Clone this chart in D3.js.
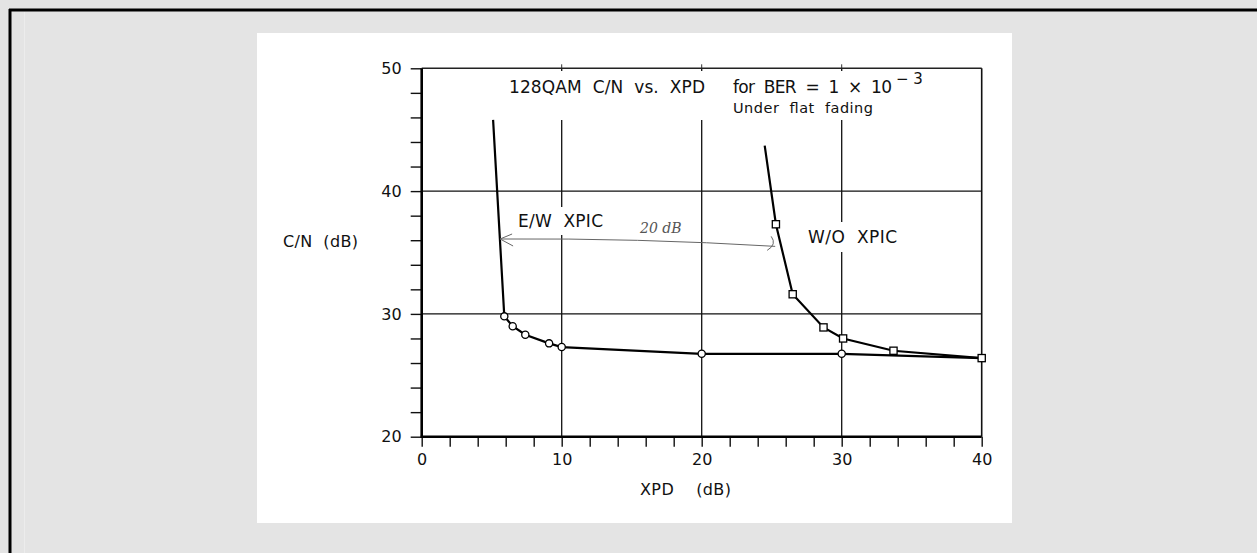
<!DOCTYPE html>
<html>
<head>
<meta charset="utf-8">
<script src="https://cdn.jsdelivr.net/npm/d3@7"></script>
<style>
  body { margin: 0; background: #e4e4e4; }
  svg { display: block; font-family: "DejaVu Sans", "Noto Sans", sans-serif; }
</style>
</head>
<body>
<div id="chart"></div>
<script>
// values (XPD in dB, C/N in dB)
var ewXpd = [5.1, 5.9, 6.5, 7.4, 9.1, 10, 20, 30, 40];
var ewCn  = [45.8, 29.8, 29.0, 28.3, 27.6, 27.3, 26.75, 26.75, 26.4];
var ewMarked = [false, true, true, true, true, true, true, true, false];

var woXpd = [24.5, 25.3, 26.5, 28.7, 30.1, 33.7, 40];
var woCn  = [43.7, 37.3, 31.6, 28.9, 28.0, 27.0, 26.4];
var woMarked = [false, true, true, true, true, true, true];

var xTicks = [0, 10, 20, 30, 40];
var yTicks = [20, 30, 40, 50];
var xGrid = [10, 20, 30];
var yGrid = [30, 40];

var W = 1257, H = 553;
var svg = d3.select("#chart").append("svg")
    .attr("width", W)
    .attr("height", H);

// page frame
svg.append("rect").attr("width", W).attr("height", H).attr("fill", "#e4e4e4");
svg.append("line").attr("x1", 9).attr("x2", W).attr("y1", 10).attr("y2", 10)
    .attr("stroke", "#000").attr("stroke-width", 3);
svg.append("line").attr("x1", 10).attr("x2", 10).attr("y1", 9).attr("y2", H)
    .attr("stroke", "#000").attr("stroke-width", 3);
svg.append("line").attr("x1", 24.5).attr("x2", 24.5).attr("y1", 12).attr("y2", H)
    .attr("stroke", "#ececec").attr("stroke-width", 1);
svg.append("rect").attr("x", 257).attr("y", 33).attr("width", 755).attr("height", 490)
    .attr("fill", "#fff");

var x = d3.scaleLinear().domain([0, 40]).range([421.7, 981.7]);
var y = d3.scaleLinear().domain([20, 50]).range([436.7, 68.3]);

var g = svg.append("g");

// grid
g.selectAll(".vgrid").data(xGrid).enter().append("line")
    .attr("x1", d => x(d)).attr("x2", d => x(d))
    .attr("y1", y(50)).attr("y2", y(20))
    .attr("stroke", "#111").attr("stroke-width", 1.3);
g.selectAll(".hgrid").data(yGrid).enter().append("line")
    .attr("x1", x(0)).attr("x2", x(40))
    .attr("y1", d => y(d)).attr("y2", d => y(d))
    .attr("stroke", "#111").attr("stroke-width", 1.3);

// white boxes where the printed labels break the grid
var boxes = [[505, 71, 420, 49], [514, 207, 94, 28], [804, 222, 100, 30]];
g.selectAll(".knock").data(boxes).enter().append("rect")
    .attr("x", d => d[0]).attr("y", d => d[1])
    .attr("width", d => d[2]).attr("height", d => d[3])
    .attr("fill", "#fff");

// axes
var xAxis = d3.axisBottom(x).tickValues(d3.range(0, 41, 2)).tickSize(10)
    .tickFormat(d => xTicks.indexOf(d) >= 0 ? d : "");
var gx = g.append("g").attr("transform", "translate(0," + y(20) + ")").call(xAxis);
gx.select(".domain").remove();
gx.selectAll(".tick line").attr("stroke", "#111").attr("stroke-width", 1.4);
gx.selectAll(".tick text").attr("font-family", "DejaVu Sans").attr("font-size", 16)
    .attr("fill", "#111").attr("dy", "0.95em");

var yAxis = d3.axisLeft(y).tickValues(d3.range(20, 51, 2)).tickSize(11)
    .tickFormat(d => yTicks.indexOf(d) >= 0 ? d : "");
var gy = g.append("g").attr("transform", "translate(" + x(0) + ",0)").call(yAxis);
gy.select(".domain").remove();
gy.selectAll(".tick line").attr("stroke", "#111").attr("stroke-width", 1.4);
gy.selectAll(".tick text").attr("font-family", "DejaVu Sans").attr("font-size", 16)
    .attr("fill", "#111").attr("x", -20);

// small ticks on the top edge
g.selectAll(".ttick").data(xGrid).enter().append("line")
    .attr("x1", d => x(d)).attr("x2", d => x(d))
    .attr("y1", y(50) - 4).attr("y2", y(50))
    .attr("stroke", "#333").attr("stroke-width", 1);

// frame
g.append("line").attr("x1", x(0)).attr("x2", x(40)).attr("y1", y(50)).attr("y2", y(50))
    .attr("stroke", "#222").attr("stroke-width", 1.6);
g.append("line").attr("x1", x(40)).attr("x2", x(40)).attr("y1", y(50)).attr("y2", y(20))
    .attr("stroke", "#111").attr("stroke-width", 1.6);
g.append("line").attr("x1", x(0)).attr("x2", x(0)).attr("y1", y(50)).attr("y2", y(20) + 1)
    .attr("stroke", "#000").attr("stroke-width", 2.6);
g.append("line").attr("x1", x(0) - 1).attr("x2", x(40)).attr("y1", y(20)).attr("y2", y(20))
    .attr("stroke", "#000").attr("stroke-width", 2.6);

// curves
var line = d3.line().x(d => x(d[0])).y(d => y(d[1]));
var ew = ewXpd.map((v, i) => [v, ewCn[i], ewMarked[i]]);
var wo = woXpd.map((v, i) => [v, woCn[i], woMarked[i]]);

g.append("path").datum(ew).attr("d", line)
    .attr("fill", "none").attr("stroke", "#000").attr("stroke-width", 2.2);
g.append("path").datum(wo).attr("d", line)
    .attr("fill", "none").attr("stroke", "#000").attr("stroke-width", 2.2);

g.selectAll(".circ").data(ew.filter(d => d[2])).enter().append("circle")
    .attr("cx", d => x(d[0])).attr("cy", d => y(d[1])).attr("r", 3.6)
    .attr("fill", "#fff").attr("stroke", "#000").attr("stroke-width", 1.3);
g.selectAll(".sq").data(wo.filter(d => d[2])).enter().append("rect")
    .attr("x", d => x(d[0]) - 3.6).attr("y", d => y(d[1]) - 3.6)
    .attr("width", 7.2).attr("height", 7.2)
    .attr("fill", "#fff").attr("stroke", "#000").attr("stroke-width", 1.3);

// printed labels
function label(tx, ty, str, size, len) {
  return g.append("text").attr("x", tx).attr("y", ty)
      .attr("font-size", size).attr("fill", "#111")
      .attr("textLength", len).attr("lengthAdjust", "spacing")
      .attr("xml:space", "preserve")
      .text(str);
}
label(509, 93, "128QAM  C/N  vs.  XPD", 17, 196);
label(733, 93, "for  BER  =  1  \u00d7  10", 17, 159);
g.append("text").attr("x", 896).attr("y", 84).attr("font-size", 15).attr("fill", "#111")
    .text("\u2212 3");
label(733, 113, "Under  flat  fading", 14.5, 140);
label(518, 227, "E/W  XPIC", 17, 85);
label(808, 243, "W/O  XPIC", 17, 89);
label(283, 247, "C/N  (dB)", 16, 75);
label(640, 495, "XPD    (dB)", 16, 91);

// handwritten "20 dB" arrow between the curves
var arrowFrom = [5.6, 36.1], arrowTo = [25.25, 35.5];
var ax1 = x(arrowFrom[0]), ay1 = y(arrowFrom[1]);
var ax2 = x(arrowTo[0]), ay2 = y(arrowTo[1]);
g.append("path")
    .attr("d", "M" + ax1 + "," + ay1 + "Q" + ((ax1 + ax2) / 2) + "," + (ay1 - 1) + " " + ax2 + "," + ay2)
    .attr("fill", "none").attr("stroke", "#666").attr("stroke-width", 1);
g.append("path")
    .attr("d", "M" + (ax1 + 12) + "," + (ay1 - 5) + "L" + ax1 + "," + ay1 + "L" + (ax1 + 13) + "," + (ay1 + 7))
    .attr("fill", "none").attr("stroke", "#666").attr("stroke-width", 1);
g.append("path")
    .attr("d", "M" + (ax2 - 4) + "," + (ay2 - 10) + "Q" + (ax2 + 2) + "," + (ay2 - 2) + " " + (ax2 - 8) + "," + (ay2 + 4))
    .attr("fill", "none").attr("stroke", "#666").attr("stroke-width", 1);
g.append("text").attr("x", x(15.6)).attr("y", y(36.6))
    .attr("font-family", "DejaVu Serif").attr("font-style", "italic")
    .attr("font-size", 14).attr("fill", "#555")
    .text("20 dB");
</script>
</body>
</html>
